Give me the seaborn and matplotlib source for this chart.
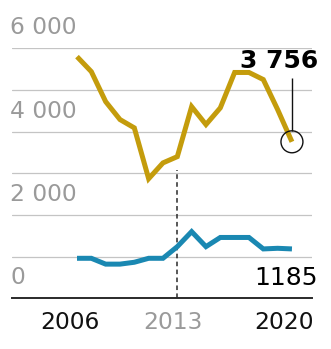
import matplotlib
matplotlib.use("Agg")
import matplotlib.pyplot as plt
import matplotlib.transforms as mtransforms
import seaborn as sns
import pandas as pd

years = list(range(2006, 2022))
gold_values = [5800, 5440, 4720, 4290, 4090, 2870, 3250, 3400, 4600, 4170, 4570, 5420, 5420, 5250, 4530, 3756]
blue_values = [960, 960, 820, 820, 865, 960, 960, 1240, 1600, 1240, 1460, 1460, 1460, 1185, 1200, 1185]
y_tick_values = [0, 2000, 4000, 6000]
y_tick_labels = ["0", "2 000", "4 000", "6 000"]
x_tick_values = [2006, 2013, 2020]
x_tick_labels = ["2006", "2013", "2020"]
highlight_year = 2013
gold_label = "3 756"
blue_label = "1185"

GOLD = "#C49C0C"
BLUE = "#1A88B2"
GRAY = "#9a9a9a"

df = pd.DataFrame({
    "year": years * 2,
    "value": gold_values + blue_values,
    "series": ["gold"] * len(years) + ["blue"] * len(years),
})

sns.set_theme(style="white")
plt.rcParams["font.family"] = ["DejaVu Sans"]

W, H = 331, 349
fig = plt.figure(figsize=(W / 100, H / 100), dpi=100)
ax_left, ax_right = 12, 312
ax_bottom_px, ax_top_px = 298.3, 48.3
ax = fig.add_axes([ax_left / W, (H - ax_bottom_px) / H,
                   (ax_right - ax_left) / W, (ax_bottom_px - ax_top_px) / H])

x_per_px = 1 / 14.33
ax.set_xlim(2006 - (77 - ax_left) * x_per_px, 2006 + (ax_right - 77) * x_per_px)
ax.set_ylim(0, 6000)

# gridlines
ax.set_yticks(range(0, 7000, 1000))
ax.yaxis.grid(True, color="#c4c4c4", linewidth=0.9)
ax.xaxis.grid(False)
ax.tick_params(axis="y", length=0, labelleft=False)
for s in ["left", "right", "top"]:
    ax.spines[s].set_visible(False)
ax.spines["bottom"].set_color("#2a2a2a")
ax.spines["bottom"].set_linewidth(1.4)
ax.set_axisbelow(True)

# dashed highlight line
ax.vlines(highlight_year, 0, 3080, colors="#2a2a2a", linestyles=(0, (3, 2.2)),
          linewidth=1.1, zorder=1)

sns.lineplot(data=df, x="year", y="value", hue="series",
             palette={"gold": GOLD, "blue": BLUE}, linewidth=3.6,
             legend=False, ax=ax, zorder=3)
for ln in ax.get_lines():
    ln.set_solid_joinstyle("miter")
    ln.set_solid_capstyle("butt")

ax.set_xlabel("")
ax.set_ylabel("")

# x tick labels
ax.set_xticks(x_tick_values)
ax.set_xticklabels(x_tick_labels, fontsize=16.8)
ax.tick_params(axis="x", length=0, pad=9)
shifts = [-7, -4, 6]
for lab, dx in zip(ax.get_xticklabels(), shifts):
    lab.set_transform(lab.get_transform() + mtransforms.ScaledTranslation(dx / 100, 0, fig.dpi_scale_trans))
ax.get_xticklabels()[0].set_color("#111111")
ax.get_xticklabels()[1].set_color(GRAY)
ax.get_xticklabels()[2].set_color("#111111")

# y tick labels above gridlines
for v, t in zip(y_tick_values, y_tick_labels):
    ax.annotate(t, xy=(0, v), xycoords=("axes fraction", "data"),
                xytext=(-2 / 1.389, 9 / 1.389), textcoords="offset points",
                ha="left", va="bottom", fontsize=16.8, color=GRAY,
                annotation_clip=False)

# end marker for gold
last_year = years[-1]
ax.scatter([last_year], [gold_values[-1]], s=250, facecolors="none",
           edgecolors="#111111", linewidths=1.0, zorder=4, clip_on=False)
ax.vlines(last_year, 4020, 5285, colors="#111111", linewidth=1.0, zorder=4)

ax.text(2006 + (318 - 77) * x_per_px, (ax_bottom_px - 68) / 41.67 * 1000, gold_label,
        ha="right", va="baseline", fontsize=18, fontweight="bold", color="#000000",
        clip_on=False)
ax.text(2006 + (318 - 77) * x_per_px, (ax_bottom_px - 285) / 41.67 * 1000, blue_label,
        ha="right", va="baseline", fontsize=18, color="#000000", clip_on=False)

fig.savefig("out.png", dpi=100, facecolor="white")
